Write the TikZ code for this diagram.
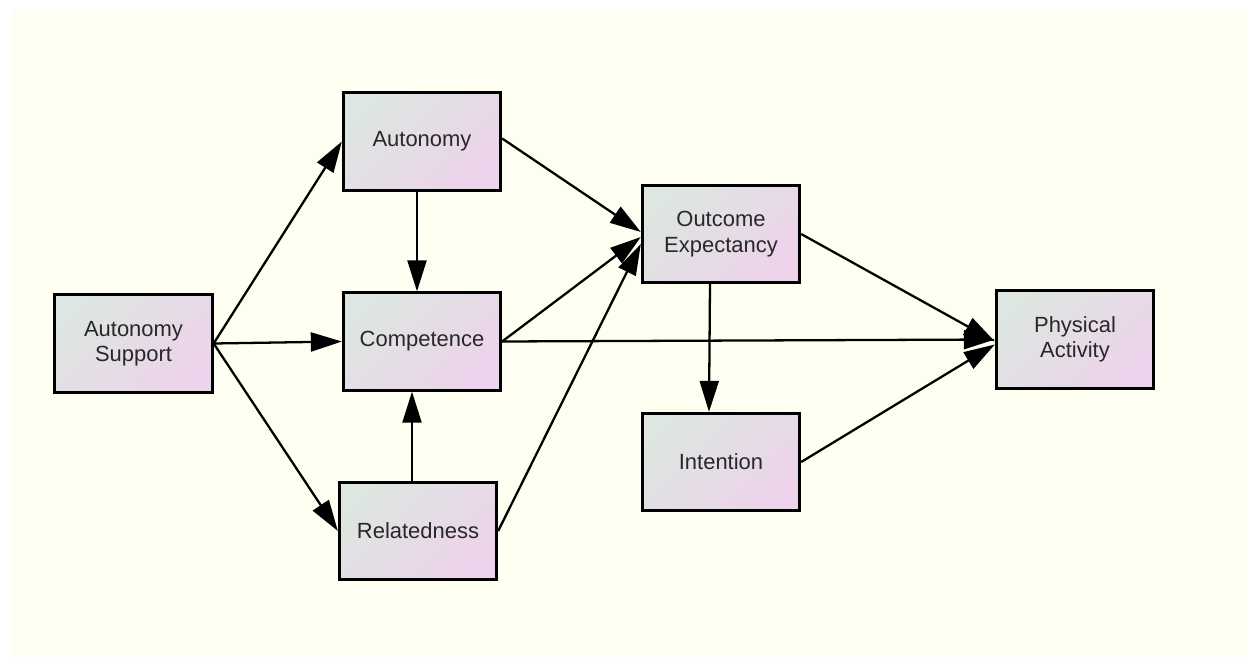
\documentclass[tikz,border=0pt]{standalone}
\usepackage{fontspec}
\setmainfont{Liberation Sans}
\usetikzlibrary{arrows.meta,positioning,calc}
\definecolor{cream}{RGB}{254,255,240}
\definecolor{boxgreen}{RGB}{221,230,224}
\definecolor{boxpink}{RGB}{237,211,235}
\definecolor{labelgray}{RGB}{40,40,40}
\tikzset{
  var/.style={draw=black, line width=1.6pt, top color=boxgreen, bottom color=boxpink,
    shading angle=45, minimum width=3.15cm, minimum height=1.95cm, align=center,
    text=labelgray, font=\fontsize{12.5}{14.5}\selectfont},
  arr/.style={-{Triangle[length=6.2mm,width=3.8mm]}, line width=1.3pt}
}

\begin{document}
\begin{tikzpicture}

  % ---- canvas ----
  \useasboundingbox (0,0) rectangle (24.96,-13.14);
  \fill[cream] (0.22,-0.18) rectangle (24.96,-13.14);

  % ---- variables ----
  \node[var] (autsup) at (2.67,-6.87) {Autonomy\\Support};
  \node[var] (aut) at (8.44,-2.83) {Autonomy};
  \node[var] (comp) at (8.44,-6.83) {Competence};
  \node[var] (rel) at (8.36,-10.62) {Relatedness};
  \node[var] (outc) at (14.42,-4.68) {Outcome\\Expectancy};
  \node[var] (intent) at (14.42,-9.24) {Intention};
  \node[var] (pa) at (21.50,-6.79) {Physical\\Activity};

  % ---- paths from autonomy support ----
  \draw[arr] (autsup.east) -- (aut.west);
  \draw[arr] (autsup.east) -- (comp.west);
  \draw[arr] (autsup.east) -- (rel.west);

  % ---- needs ----
  \draw[arr] ([xshift=-0.1cm]aut.south) -- ([xshift=-0.1cm]comp.north);
  \draw[arr] ([xshift=-0.12cm]rel.north) -- ([xshift=-0.2cm]comp.south);

  \draw[arr] ([yshift=0.06cm]aut.east) -- ([yshift=0.04cm]outc.west);
  \draw[arr] (comp.east) -- ([yshift=-0.06cm]outc.west);
  \draw[arr] (rel.east) -- ([yshift=-0.2cm]outc.west);
  \draw[arr] (comp.east) -- (pa.west);

  % ---- outcome side ----
  \draw[arr] ([xshift=-0.22cm]outc.south) -- ([xshift=-0.24cm]intent.north);
  \draw[arr] (outc.east) -- ([yshift=-0.04cm]pa.west);
  \draw[arr] (intent.east) -- ([yshift=-0.1cm]pa.west);

\end{tikzpicture}
\end{document}
